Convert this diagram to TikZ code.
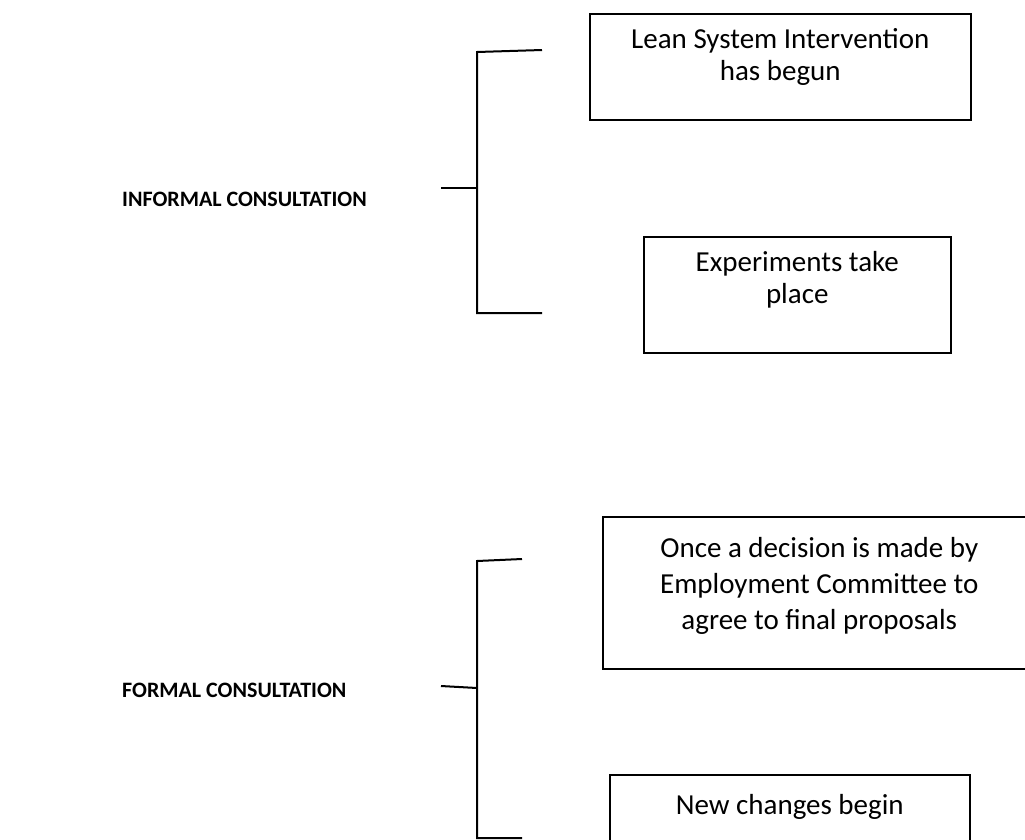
\documentclass[tikz,border=0pt]{standalone}
\usepackage{fontspec}
\setmainfont{Carlito}
\usetikzlibrary{positioning}

\begin{document}
\begin{tikzpicture}[x=1pt, y=-1pt,
    box/.style={draw, line width=1.5pt, anchor=north west, inner sep=0pt},
    boxtext/.style={align=center, inner sep=0pt, font=\fontsize{29}{32}\selectfont},
    stage/.style={anchor=west, inner sep=0pt, font=\fontsize{22}{26}\selectfont\bfseries},
    brace/.style={line width=2pt}]
  \useasboundingbox (0,0) rectangle (1025,839);
  \node[box, minimum width=381pt, minimum height=106pt] (lean) at (589,13) {};
  \node[boxtext, below=15pt of lean.north] (leantext) {Lean System Intervention\\has begun};
  \node[box, minimum width=307pt, minimum height=116pt] (exper) at (643,236) {};
  \node[boxtext, below=15pt of exper.north] (expertext) {Experiments take\\place};
  \node[box, minimum width=433pt, minimum height=152pt] (decide) at (602,516) {};
  \node[boxtext, below=21pt of decide.north, font=\fontsize{29}{36}\selectfont] (decidetext) {Once a decision is made by\\Employment Committee to\\agree to final proposals};
  \node[box, minimum width=360pt, minimum height=100pt] (newch) at (609,774) {};
  \node[boxtext, below=20pt of newch.north] (newchtext) {New changes begin};
  \node[stage] (informal) at (122,199) {INFORMAL CONSULTATION};
  \node[stage] (formal) at (122,690) {FORMAL CONSULTATION};
  \coordinate (ia) at (477,52); \coordinate (ib) at (542,50);
  \coordinate (ic) at (477,313); \coordinate (id) at (542,313);
  \coordinate (ie) at (441,188); \coordinate (if) at (477,188);
  \coordinate (fa) at (477,561); \coordinate (fb) at (522,559);
  \coordinate (fc) at (477,838); \coordinate (fd) at (522,838);
  \coordinate (fe) at (441,686); \coordinate (ff) at (477,688);
  \draw[brace] (ib) -- (ia) -- (ic) -- (id);
  \draw[brace] (ie) -- (if);
  \draw[brace] (fb) -- (fa) -- (fc) -- (fd);
  \draw[brace] (fe) -- (ff);
\end{tikzpicture}
\end{document}
